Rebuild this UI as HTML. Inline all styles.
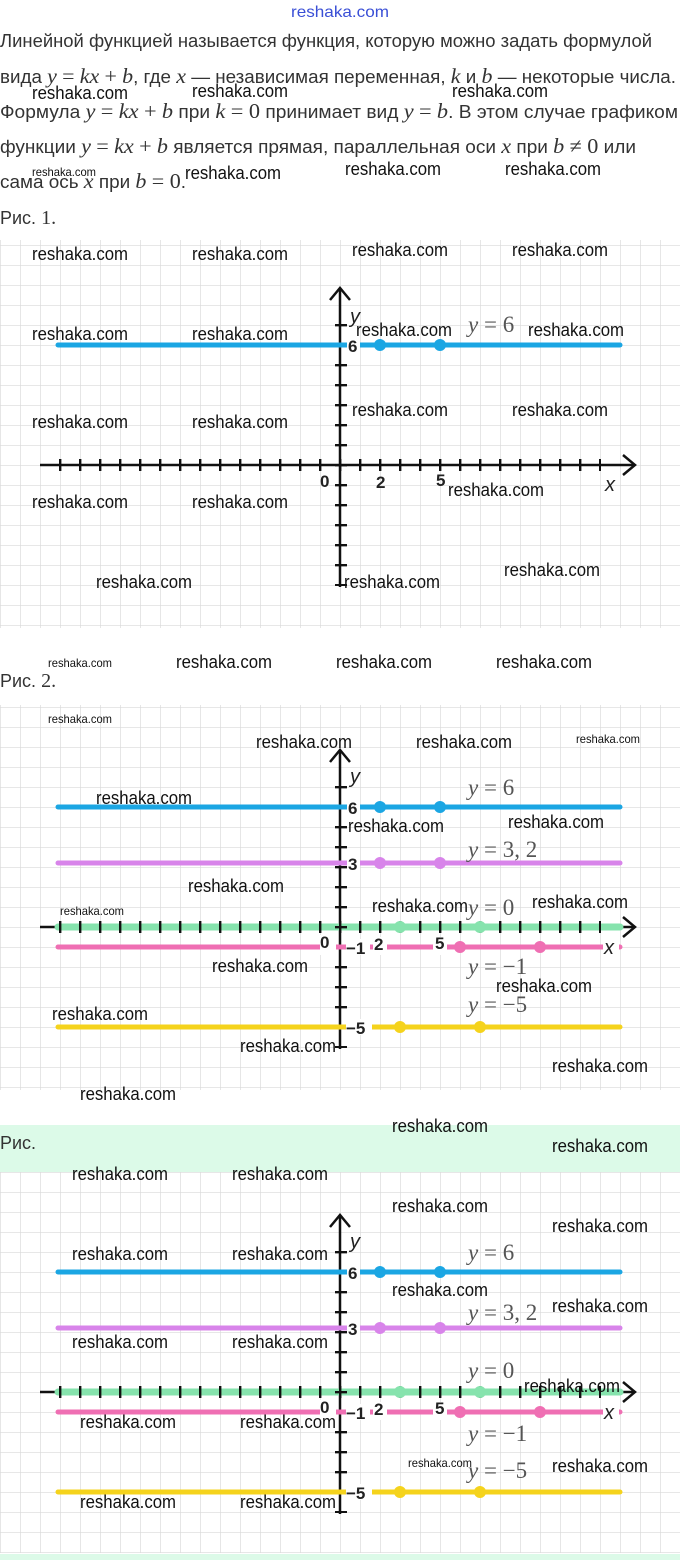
<!DOCTYPE html>
<html><head><meta charset="utf-8"><style>
html,body{margin:0;padding:0;background:#fff;width:680px;height:1560px;overflow:hidden}
svg{display:block}
.w{font-family:"Liberation Sans Narrow","Liberation Sans",sans-serif;font-size:18px;fill:#111}
.ws{font-family:"Liberation Sans Narrow","Liberation Sans",sans-serif;font-size:12px;fill:#111}
.t{font-family:"Liberation Sans","DejaVu Sans",sans-serif;font-size:18px;fill:#333}
.m{font-family:"Liberation Serif",serif;font-style:italic}
.n{font-family:"Liberation Serif",serif}
.eq{font-family:"Liberation Serif",serif;font-size:23px;fill:#555}
.lb{font-family:"Liberation Sans",sans-serif;font-size:17px;font-weight:bold;fill:#222}
</style></head><body>
<svg width="680" height="1560" viewBox="0 0 680 1560" xmlns="http://www.w3.org/2000/svg">
<defs>
<pattern id="gr" width="20" height="20" patternUnits="userSpaceOnUse">
<rect width="20" height="20" fill="#fff"/>
<path d="M0 0H20M0 0V20" stroke="#d9d9d9" stroke-width="1.3" fill="none"/>
</pattern>
<g id="axes">
<line x1="40" y1="0" x2="634" y2="0" stroke="#111" stroke-width="2.5"/>
<polyline points="623,-10 635,0 623,10" fill="none" stroke="#111" stroke-width="2.5"/>
<line x1="340" y1="-176" x2="340" y2="122" stroke="#111" stroke-width="2.5"/>
<polyline points="330,-165 340,-177 350,-165" fill="none" stroke="#111" stroke-width="2.5"/>
</g>
<g id="ticks">
<line x1="59" y1="0" x2="601" y2="0" stroke="#111" stroke-width="12" stroke-dasharray="2.4 17.6"/>
<line x1="341" y1="-141" x2="341" y2="121" stroke="#111" stroke-width="12" stroke-dasharray="2.4 17.6"/>
</g>
</defs>

<!-- top text -->
<text x="340" y="17" text-anchor="middle" font-family="Liberation Sans Narrow,Liberation Sans,sans-serif" font-size="16" fill="#3a4fd6" textLength="98" lengthAdjust="spacingAndGlyphs">reshaka.com</text>
<text class="t" x="0" y="47" textLength="652" lengthAdjust="spacingAndGlyphs">Линейной функцией называется функция, которую можно задать формулой</text>
<text class="t" x="0" y="83" textLength="676" lengthAdjust="spacingAndGlyphs">вида <tspan class="m" font-size="21">y</tspan> <tspan class="n" font-size="21">=</tspan> <tspan class="m" font-size="21">kx</tspan> <tspan class="n" font-size="21">+</tspan> <tspan class="m" font-size="21">b</tspan>, где <tspan class="m" font-size="21">x</tspan> — независимая переменная, <tspan class="m" font-size="21">k</tspan> и <tspan class="m" font-size="21">b</tspan> — некоторые числа.</text>
<text class="t" x="0" y="118" textLength="678" lengthAdjust="spacingAndGlyphs">Формула <tspan class="m" font-size="21">y</tspan> <tspan class="n" font-size="21">=</tspan> <tspan class="m" font-size="21">kx</tspan> <tspan class="n" font-size="21">+</tspan> <tspan class="m" font-size="21">b</tspan> при <tspan class="m" font-size="21">k</tspan> <tspan class="n" font-size="21">= 0</tspan> принимает вид <tspan class="m" font-size="21">y</tspan> <tspan class="n" font-size="21">=</tspan> <tspan class="m" font-size="21">b</tspan>. В этом случае графиком</text>
<text class="t" x="0" y="153" textLength="636" lengthAdjust="spacingAndGlyphs">функции <tspan class="m" font-size="21">y</tspan> <tspan class="n" font-size="21">=</tspan> <tspan class="m" font-size="21">kx</tspan> <tspan class="n" font-size="21">+</tspan> <tspan class="m" font-size="21">b</tspan> является прямая, параллельная оси <tspan class="m" font-size="21">x</tspan> при <tspan class="m" font-size="21">b</tspan> <tspan class="n" font-size="21">≠ 0</tspan> или</text>
<text class="t" x="0" y="188" textLength="186" lengthAdjust="spacingAndGlyphs">сама ось <tspan class="m" font-size="21">x</tspan> при <tspan class="m" font-size="21">b</tspan> <tspan class="n" font-size="21">= 0</tspan>.</text>
<text class="t" x="0" y="224">Рис. <tspan class="n" font-size="20">1.</tspan></text>

<!-- GRAPH 1 -->
<g transform="translate(0,465)">
<rect x="0" y="-225" width="680" height="388" fill="url(#gr)"/>
<use href="#axes"/><use href="#ticks"/>
<line x1="58" y1="-120" x2="620" y2="-120" stroke="#1ba6e3" stroke-width="5" stroke-linecap="round"/>
<rect x="347" y="-129" width="13" height="18" fill="#fff"/>
<circle cx="380" cy="-120" r="6" fill="#1ba6e3"/><circle cx="440" cy="-120" r="6" fill="#1ba6e3"/>
<text class="lb" x="348" y="-113">6</text>
<text class="eq" x="468" y="-133"><tspan class="m">y</tspan> = 6</text>
<text x="350" y="-142" font-family="Liberation Sans,sans-serif" font-style="italic" font-size="20" fill="#222">y</text>
<text class="lb" x="320" y="22">0</text><text class="lb" x="376" y="23">2</text><text class="lb" x="436" y="21">5</text>
<text x="605" y="26" font-family="Liberation Sans,sans-serif" font-style="italic" font-size="20" fill="#222">x</text>
</g>

<!-- GRAPH 2 -->
<g transform="translate(0,927)">
<rect x="0" y="-222" width="680" height="385" fill="url(#gr)"/>
<use href="#axes"/>
<line x1="58" y1="0" x2="620" y2="0" stroke="#86e3ad" stroke-width="7" stroke-linecap="round"/>
<use href="#ticks"/>
<line x1="58" y1="-120" x2="620" y2="-120" stroke="#1ba6e3" stroke-width="5" stroke-linecap="round"/>
<line x1="58" y1="-64" x2="620" y2="-64" stroke="#d884ea" stroke-width="5" stroke-linecap="round"/>
<line x1="58" y1="20" x2="620" y2="20" stroke="#ef6fb3" stroke-width="5" stroke-linecap="round"/>
<line x1="58" y1="100" x2="620" y2="100" stroke="#f5d31c" stroke-width="5" stroke-linecap="round"/>
<rect x="347" y="-129" width="13" height="18" fill="#fff"/><rect x="347" y="-73" width="13" height="18" fill="#fff"/>
<rect x="320" y="8" width="16" height="20" fill="#fff"/><rect x="346" y="12" width="24" height="16" fill="#fff"/><rect x="373" y="10" width="14" height="18" fill="#fff"/><rect x="433" y="10" width="14" height="18" fill="#fff"/><rect x="603" y="10" width="16" height="18" fill="#fff"/>
<rect x="346" y="92" width="26" height="16" fill="#fff"/>
<circle cx="380" cy="-120" r="6" fill="#1ba6e3"/><circle cx="440" cy="-120" r="6" fill="#1ba6e3"/>
<circle cx="380" cy="-64" r="6" fill="#d884ea"/><circle cx="440" cy="-64" r="6" fill="#d884ea"/>
<circle cx="400" cy="0" r="6" fill="#86e3ad"/><circle cx="480" cy="0" r="6" fill="#86e3ad"/>
<circle cx="460" cy="20" r="6" fill="#ef6fb3"/><circle cx="540" cy="20" r="6" fill="#ef6fb3"/>
<circle cx="400" cy="100" r="6" fill="#f5d31c"/><circle cx="480" cy="100" r="6" fill="#f5d31c"/>
<text class="lb" x="348" y="-113">6</text><text class="lb" x="348" y="-57">3</text>
<text class="lb" x="346" y="27">−1</text><text class="lb" x="346" y="107">−5</text>
<text x="350" y="-144" font-family="Liberation Sans,sans-serif" font-style="italic" font-size="20" fill="#222">y</text>
<text class="lb" x="320" y="21">0</text><text class="lb" x="374" y="23">2</text><text class="lb" x="435" y="22">5</text>
<text x="604" y="27" font-family="Liberation Sans,sans-serif" font-style="italic" font-size="20" fill="#222">x</text>
<text class="eq" x="468" y="-132"><tspan class="m">y</tspan> = 6</text>
<text class="eq" x="468" y="-70"><tspan class="m">y</tspan> = 3, 2</text>
<text class="eq" x="468" y="-12"><tspan class="m">y</tspan> = 0</text>
<text class="eq" x="468" y="47"><tspan class="m">y</tspan> = −1</text>
<text class="eq" x="468" y="85"><tspan class="m">y</tspan> = −5</text>
</g>

<!-- green band -->
<rect x="0" y="1125" width="680" height="47" fill="#dcfae8"/>
<text class="t" x="0" y="1149">Рис.</text>

<!-- GRAPH 3 -->
<g transform="translate(0,1392)">
<rect x="0" y="-220" width="680" height="381" fill="url(#gr)"/>
<use href="#axes"/>
<line x1="58" y1="0" x2="620" y2="0" stroke="#86e3ad" stroke-width="7" stroke-linecap="round"/>
<use href="#ticks"/>
<line x1="58" y1="-120" x2="620" y2="-120" stroke="#1ba6e3" stroke-width="5" stroke-linecap="round"/>
<line x1="58" y1="-64" x2="620" y2="-64" stroke="#d884ea" stroke-width="5" stroke-linecap="round"/>
<line x1="58" y1="20" x2="620" y2="20" stroke="#ef6fb3" stroke-width="5" stroke-linecap="round"/>
<line x1="58" y1="100" x2="620" y2="100" stroke="#f5d31c" stroke-width="5" stroke-linecap="round"/>
<rect x="347" y="-129" width="13" height="18" fill="#fff"/><rect x="347" y="-73" width="13" height="18" fill="#fff"/>
<rect x="320" y="8" width="16" height="20" fill="#fff"/><rect x="346" y="12" width="24" height="16" fill="#fff"/><rect x="373" y="10" width="14" height="18" fill="#fff"/><rect x="433" y="10" width="14" height="18" fill="#fff"/><rect x="603" y="10" width="16" height="18" fill="#fff"/>
<rect x="346" y="92" width="26" height="16" fill="#fff"/>
<circle cx="380" cy="-120" r="6" fill="#1ba6e3"/><circle cx="440" cy="-120" r="6" fill="#1ba6e3"/>
<circle cx="380" cy="-64" r="6" fill="#d884ea"/><circle cx="440" cy="-64" r="6" fill="#d884ea"/>
<circle cx="400" cy="0" r="6" fill="#86e3ad"/><circle cx="480" cy="0" r="6" fill="#86e3ad"/>
<circle cx="460" cy="20" r="6" fill="#ef6fb3"/><circle cx="540" cy="20" r="6" fill="#ef6fb3"/>
<circle cx="400" cy="100" r="6" fill="#f5d31c"/><circle cx="480" cy="100" r="6" fill="#f5d31c"/>
<text class="lb" x="348" y="-113">6</text><text class="lb" x="348" y="-57">3</text>
<text class="lb" x="346" y="27">−1</text><text class="lb" x="346" y="107">−5</text>
<text x="350" y="-144" font-family="Liberation Sans,sans-serif" font-style="italic" font-size="20" fill="#222">y</text>
<text class="lb" x="320" y="21">0</text><text class="lb" x="374" y="23">2</text><text class="lb" x="435" y="22">5</text>
<text x="604" y="27" font-family="Liberation Sans,sans-serif" font-style="italic" font-size="20" fill="#222">x</text>
<text class="eq" x="468" y="-132"><tspan class="m">y</tspan> = 6</text>
<text class="eq" x="468" y="-72"><tspan class="m">y</tspan> = 3, 2</text>
<text class="eq" x="468" y="-14"><tspan class="m">y</tspan> = 0</text>
<text class="eq" x="468" y="49"><tspan class="m">y</tspan> = −1</text>
<text class="eq" x="468" y="86"><tspan class="m">y</tspan> = −5</text>
</g>
<rect x="0" y="1554" width="680" height="6" fill="#dcfae8"/>

<!-- watermarks (normal) -->
<g class="w">
<text x="32" y="99" textLength="96" lengthAdjust="spacingAndGlyphs">reshaka.com</text>
<text x="192" y="97" textLength="96" lengthAdjust="spacingAndGlyphs">reshaka.com</text>
<text x="452" y="97" textLength="96" lengthAdjust="spacingAndGlyphs">reshaka.com</text>
<text x="185" y="179" textLength="96" lengthAdjust="spacingAndGlyphs">reshaka.com</text>
<text x="345" y="175" textLength="96" lengthAdjust="spacingAndGlyphs">reshaka.com</text>
<text x="505" y="175" textLength="96" lengthAdjust="spacingAndGlyphs">reshaka.com</text>
<text x="32" y="260" textLength="96" lengthAdjust="spacingAndGlyphs">reshaka.com</text>
<text x="192" y="260" textLength="96" lengthAdjust="spacingAndGlyphs">reshaka.com</text>
<text x="352" y="256" textLength="96" lengthAdjust="spacingAndGlyphs">reshaka.com</text>
<text x="512" y="256" textLength="96" lengthAdjust="spacingAndGlyphs">reshaka.com</text>
<text x="32" y="340" textLength="96" lengthAdjust="spacingAndGlyphs">reshaka.com</text>
<text x="192" y="340" textLength="96" lengthAdjust="spacingAndGlyphs">reshaka.com</text>
<text x="356" y="336" textLength="96" lengthAdjust="spacingAndGlyphs">reshaka.com</text>
<text x="528" y="336" textLength="96" lengthAdjust="spacingAndGlyphs">reshaka.com</text>
<text x="32" y="428" textLength="96" lengthAdjust="spacingAndGlyphs">reshaka.com</text>
<text x="192" y="428" textLength="96" lengthAdjust="spacingAndGlyphs">reshaka.com</text>
<text x="352" y="416" textLength="96" lengthAdjust="spacingAndGlyphs">reshaka.com</text>
<text x="512" y="416" textLength="96" lengthAdjust="spacingAndGlyphs">reshaka.com</text>
<text x="32" y="508" textLength="96" lengthAdjust="spacingAndGlyphs">reshaka.com</text>
<text x="192" y="508" textLength="96" lengthAdjust="spacingAndGlyphs">reshaka.com</text>
<text x="448" y="496" textLength="96" lengthAdjust="spacingAndGlyphs">reshaka.com</text>
<text x="96" y="588" textLength="96" lengthAdjust="spacingAndGlyphs">reshaka.com</text>
<text x="344" y="588" textLength="96" lengthAdjust="spacingAndGlyphs">reshaka.com</text>
<text x="504" y="576" textLength="96" lengthAdjust="spacingAndGlyphs">reshaka.com</text>
<text x="176" y="668" textLength="96" lengthAdjust="spacingAndGlyphs">reshaka.com</text>
<text x="336" y="668" textLength="96" lengthAdjust="spacingAndGlyphs">reshaka.com</text>
<text x="496" y="668" textLength="96" lengthAdjust="spacingAndGlyphs">reshaka.com</text>
<text x="256" y="748" textLength="96" lengthAdjust="spacingAndGlyphs">reshaka.com</text>
<text x="416" y="748" textLength="96" lengthAdjust="spacingAndGlyphs">reshaka.com</text>
<text x="96" y="804" textLength="96" lengthAdjust="spacingAndGlyphs">reshaka.com</text>
<text x="348" y="832" textLength="96" lengthAdjust="spacingAndGlyphs">reshaka.com</text>
<text x="508" y="828" textLength="96" lengthAdjust="spacingAndGlyphs">reshaka.com</text>
<text x="188" y="892" textLength="96" lengthAdjust="spacingAndGlyphs">reshaka.com</text>
<text x="372" y="912" textLength="96" lengthAdjust="spacingAndGlyphs">reshaka.com</text>
<text x="532" y="908" textLength="96" lengthAdjust="spacingAndGlyphs">reshaka.com</text>
<text x="212" y="972" textLength="96" lengthAdjust="spacingAndGlyphs">reshaka.com</text>
<text x="496" y="992" textLength="96" lengthAdjust="spacingAndGlyphs">reshaka.com</text>
<text x="52" y="1020" textLength="96" lengthAdjust="spacingAndGlyphs">reshaka.com</text>
<text x="240" y="1052" textLength="96" lengthAdjust="spacingAndGlyphs">reshaka.com</text>
<text x="552" y="1072" textLength="96" lengthAdjust="spacingAndGlyphs">reshaka.com</text>
<text x="80" y="1100" textLength="96" lengthAdjust="spacingAndGlyphs">reshaka.com</text>
<text x="392" y="1132" textLength="96" lengthAdjust="spacingAndGlyphs">reshaka.com</text>
<text x="552" y="1152" textLength="96" lengthAdjust="spacingAndGlyphs">reshaka.com</text>
<text x="72" y="1180" textLength="96" lengthAdjust="spacingAndGlyphs">reshaka.com</text>
<text x="232" y="1180" textLength="96" lengthAdjust="spacingAndGlyphs">reshaka.com</text>
<text x="392" y="1212" textLength="96" lengthAdjust="spacingAndGlyphs">reshaka.com</text>
<text x="552" y="1232" textLength="96" lengthAdjust="spacingAndGlyphs">reshaka.com</text>
<text x="72" y="1260" textLength="96" lengthAdjust="spacingAndGlyphs">reshaka.com</text>
<text x="232" y="1260" textLength="96" lengthAdjust="spacingAndGlyphs">reshaka.com</text>
<text x="392" y="1296" textLength="96" lengthAdjust="spacingAndGlyphs">reshaka.com</text>
<text x="552" y="1312" textLength="96" lengthAdjust="spacingAndGlyphs">reshaka.com</text>
<text x="72" y="1348" textLength="96" lengthAdjust="spacingAndGlyphs">reshaka.com</text>
<text x="232" y="1348" textLength="96" lengthAdjust="spacingAndGlyphs">reshaka.com</text>
<text x="524" y="1392" textLength="96" lengthAdjust="spacingAndGlyphs">reshaka.com</text>
<text x="80" y="1428" textLength="96" lengthAdjust="spacingAndGlyphs">reshaka.com</text>
<text x="240" y="1428" textLength="96" lengthAdjust="spacingAndGlyphs">reshaka.com</text>
<text x="552" y="1472" textLength="96" lengthAdjust="spacingAndGlyphs">reshaka.com</text>
<text x="80" y="1508" textLength="96" lengthAdjust="spacingAndGlyphs">reshaka.com</text>
<text x="240" y="1508" textLength="96" lengthAdjust="spacingAndGlyphs">reshaka.com</text>
</g>
<g class="ws">
<text x="32" y="176" textLength="64" lengthAdjust="spacingAndGlyphs">reshaka.com</text>
<text x="48" y="667" textLength="64" lengthAdjust="spacingAndGlyphs">reshaka.com</text>
<text x="48" y="723" textLength="64" lengthAdjust="spacingAndGlyphs">reshaka.com</text>
<text x="576" y="743" textLength="64" lengthAdjust="spacingAndGlyphs">reshaka.com</text>
<text x="60" y="915" textLength="64" lengthAdjust="spacingAndGlyphs">reshaka.com</text>
<text x="408" y="1467" textLength="64" lengthAdjust="spacingAndGlyphs">reshaka.com</text>
</g>
<text class="t" x="0" y="687">Рис. <tspan class="n" font-size="20">2.</tspan></text>
</svg>
</body></html>
